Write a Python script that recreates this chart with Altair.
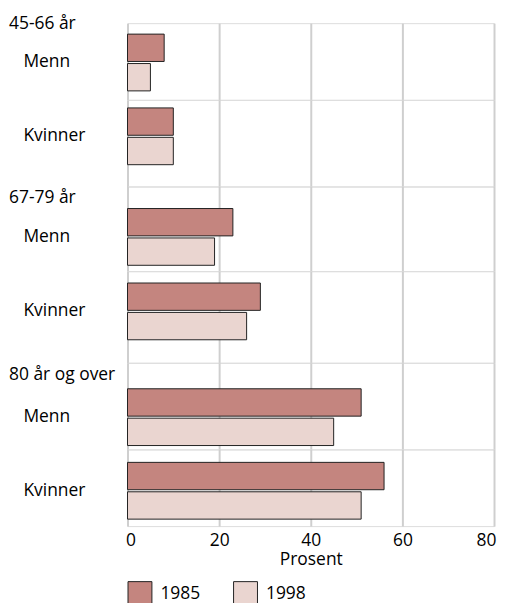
import altair as alt
import pandas as pd

# ---- data ----
groups = ["45-66 år", "67-79 år", "80 år og over"]
sexes = ["Menn", "Kvinner"]
years = ["1985", "1998"]
v1985 = [8, 10, 23, 29, 51, 56]
v1998 = [5, 10, 19, 26, 45, 51]
x_ticks = [0, 20, 40, 60, 80]
colors = ["#c4857f", "#ead5d0"]

rows = []
i = 0
for g in groups:
    for s in sexes:
        rows.append({"group": g, "sex": s, "year": years[0], "value": v1985[i]})
        rows.append({"group": g, "sex": s, "year": years[1], "value": v1998[i]})
        i += 1
df = pd.DataFrame(rows)

FONT = "Open Sans"
FS = 17.5
GRID = "#cfcfcf"
BAND = 57
# (panel height, alignment of band within panel)
layout = [(77, 0.55), (87, 0.27), (85, 0.79), (92, 0.34), (87, 0.87), (77, 0.65)]
header_offsets = {0: -18, 2: -29, 4: -30}

panels = []
for k, (h, al) in enumerate(layout):
    g = groups[k // 2]
    s = sexes[k % 2]
    last = k == len(layout) - 1
    po = (h / BAND - 1) / 2
    xaxis = alt.Axis(
        values=x_ticks, grid=True, gridColor=GRID, gridWidth=2, domain=False,
        ticks=False, labels=last, title="Prosent" if last else None,
        labelFlush=True, labelFlushOffset=2, labelFontSize=FS, labelFont=FONT,
        labelColor="#000", labelPadding=5, titleFontSize=FS, titleFont=FONT,
        titleFontWeight="normal", titleColor="#000", titlePadding=2,
    )
    yaxis = alt.Axis(
        title=None, domain=False, ticks=False, grid=False, labelAlign="left",
        labelPadding=105, labelFontSize=FS, labelFont=FONT, labelColor="#000",
    )
    ch = alt.Chart(df).transform_filter(
        (alt.datum.group == g) & (alt.datum.sex == s)
    ).mark_bar(stroke="#222", strokeWidth=1).encode(
        x=alt.X("value:Q", scale=alt.Scale(domain=[0, 80], nice=False), axis=xaxis),
        y=alt.Y("sex:N", scale=alt.Scale(paddingInner=0, paddingOuter=po, align=al), axis=yaxis),
        yOffset=alt.YOffset("year:N", scale=alt.Scale(paddingInner=0.07, paddingOuter=0)),
        color=alt.Color(
            "year:N", scale=alt.Scale(domain=years, range=colors),
            legend=alt.Legend(
                title=None, orient="bottom", direction="horizontal",
                symbolType="square", symbolSize=576, symbolStrokeColor="#222",
                symbolStrokeWidth=1, symbolOpacity=1, labelFontSize=FS,
                labelFont=FONT, labelColor="#000", columnPadding=30,
                labelOffset=8, offset=12,
            ),
        ),
    ).properties(width=368, height=h)
    if k in header_offsets:
        ch = ch.properties(title=alt.TitleParams(
            text=g, anchor="start", frame="group", orient="top",
            offset=header_offsets[k], dx=-119, baseline="middle", align="left",
            fontSize=FS, fontWeight="normal", font=FONT, color="#000",
        ))
    panels.append(ch)

chart = alt.vconcat(*panels, spacing=0, bounds="flush").resolve_scale(
    y="independent", yOffset="independent", x="shared", color="shared"
).properties(
    padding={"left": 0, "top": 5, "right": 0, "bottom": 0}
).configure_view(stroke=GRID, strokeWidth=2).configure(font=FONT)

chart.save("out.html", embed_options={"renderer": "svg", "actions": False})
